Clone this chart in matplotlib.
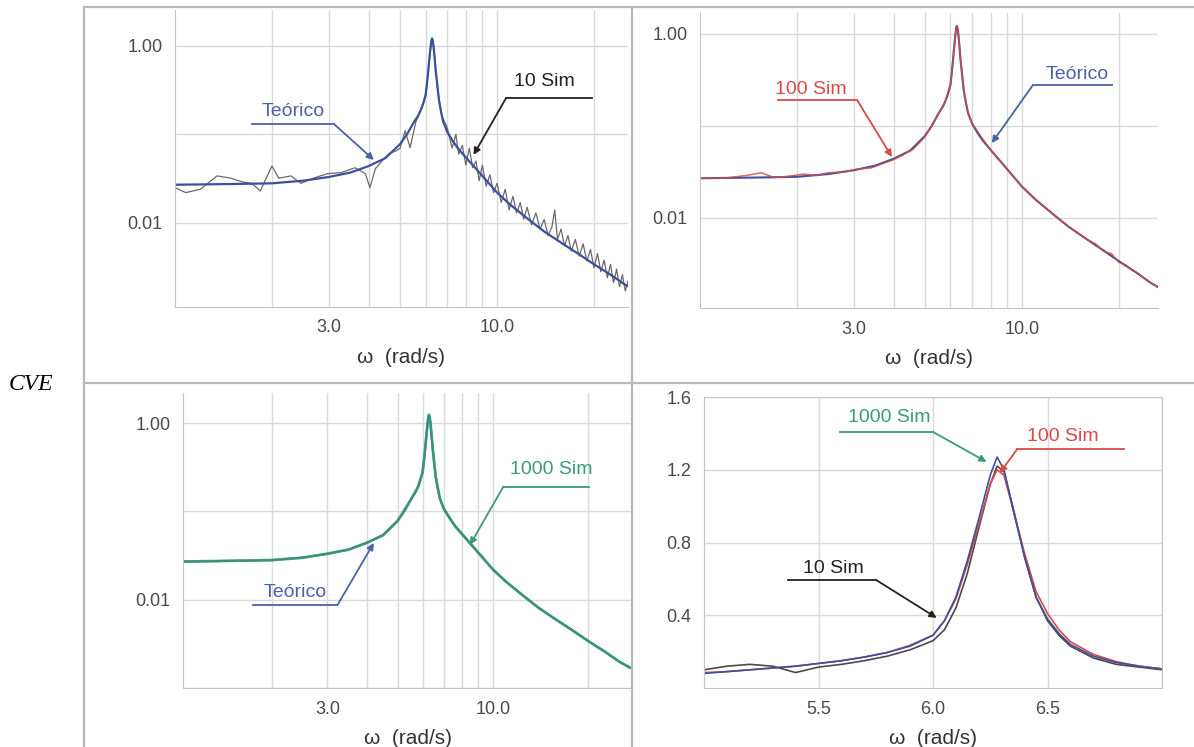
import matplotlib
matplotlib.use("Agg")
import matplotlib.pyplot as plt
from matplotlib.lines import Line2D

# theoretical spectral density
omega_th = [1.0, 1.5, 2.0, 2.5, 3.0, 3.5, 4.0, 4.5, 5.0, 5.25, 5.5, 5.7, 5.8, 5.9,
            6.0, 6.05, 6.1, 6.15, 6.2, 6.25, 6.28, 6.31, 6.35, 6.4, 6.45, 6.5,
            6.6, 6.7, 6.8, 7.0, 7.3, 7.6, 8.0, 9.0, 10.0, 11.0, 12.5, 14.0, 16.0,
            18.0, 20.0, 22.5, 25.0, 27.0]
s_th = [0.027, 0.0275, 0.028, 0.030, 0.033, 0.037, 0.044, 0.054, 0.078, 0.10,
        0.135, 0.165, 0.19, 0.225, 0.28, 0.36, 0.48, 0.665, 0.89, 1.15, 1.22,
        1.17, 1.0, 0.74, 0.52, 0.41, 0.245, 0.18, 0.14, 0.107, 0.083, 0.068,
        0.055, 0.034, 0.022, 0.016, 0.011, 0.008, 0.0058, 0.0044, 0.0034,
        0.0026, 0.002, 0.0017]

# estimate from 10 simulations
omega_10 = [1.0, 1.08, 1.2, 1.35, 1.49, 1.62, 1.73, 1.84, 2.0, 2.1, 2.29, 2.46,
            2.69, 2.97, 3.28, 3.62, 3.9, 4.03, 4.19, 4.39, 4.6, 4.85, 5.0, 5.18,
            5.37, 5.6, 5.85, 6.0, 6.15, 6.25, 6.28, 6.31, 6.4, 6.55, 6.75, 7.0,
            7.25, 7.45, 7.6, 7.8, 8.0, 8.2, 8.4, 8.6, 8.8, 9.0, 9.25, 9.5, 9.75,
            10.0, 10.3, 10.6, 10.9, 11.2, 11.5, 11.8, 12.1, 12.4, 12.8, 13.2,
            13.6, 14.0, 14.4, 14.8, 15.1, 15.4, 15.8, 16.2, 16.6, 17.0, 17.5,
            18.0, 18.5, 19.0, 19.5, 20.0, 20.5, 21.0, 21.5, 22.0, 22.5, 23.0,
            23.5, 24.0, 24.5, 25.0, 25.5]
s_10 = [0.025, 0.022, 0.024, 0.034, 0.032, 0.029, 0.028, 0.023, 0.044, 0.032,
        0.034, 0.028, 0.032, 0.036, 0.037, 0.042, 0.036, 0.025, 0.041, 0.05,
        0.06, 0.065, 0.07, 0.11, 0.071, 0.14, 0.2, 0.27, 0.64, 1.1, 1.2, 1.15,
        0.72, 0.3, 0.16, 0.12, 0.07, 0.1, 0.06, 0.075, 0.045, 0.07, 0.042,
        0.05, 0.03, 0.045, 0.026, 0.035, 0.022, 0.028, 0.017, 0.024, 0.014,
        0.02, 0.013, 0.017, 0.011, 0.015, 0.0095, 0.013, 0.0085, 0.011,
        0.0072, 0.009, 0.014, 0.0065, 0.0085, 0.0055, 0.0072, 0.0048, 0.0065,
        0.0042, 0.0058, 0.0037, 0.005, 0.0031, 0.0045, 0.0028, 0.0038, 0.0024,
        0.0034, 0.0021, 0.003, 0.0019, 0.0026, 0.0017, 0.0022]

# estimate from 100 simulations
omega_100 = [1.0, 1.2, 1.4, 1.55, 1.7, 1.9, 2.1, 2.3, 2.5, 2.8, 3.1, 3.4, 3.7,
             4.0, 4.3, 4.6, 5.0, 5.5, 5.8, 6.0, 6.1, 6.2, 6.25, 6.28, 6.31, 6.35,
             6.4, 6.5, 6.6, 6.8, 7.0, 7.5, 8.0, 9.0, 10.0, 11.0, 12.5, 14.0,
             16.0, 17.0, 18.0, 19.0, 20.0, 21.0, 22.0, 23.0, 24.0, 25.0, 27.0]
s_100 = [0.027, 0.0272, 0.029, 0.031, 0.0275, 0.0285, 0.030, 0.029, 0.031,
         0.0315, 0.034, 0.035, 0.039, 0.043, 0.049, 0.056, 0.076, 0.133, 0.19,
         0.28, 0.47, 0.88, 1.12, 1.2, 1.16, 0.99, 0.74, 0.41, 0.25, 0.142,
         0.108, 0.075, 0.055, 0.034, 0.022, 0.016, 0.011, 0.008, 0.0058,
         0.0052, 0.0043, 0.0041, 0.0033, 0.0031, 0.0027, 0.0025, 0.0022,
         0.002, 0.0017]

# estimate from 1000 simulations
omega_1000 = [1.05, 1.5, 2.0, 2.5, 3.0, 3.5, 4.0, 4.5, 5.0, 5.5, 5.8, 6.0, 6.1,
              6.2, 6.25, 6.28, 6.31, 6.35, 6.4, 6.5, 6.6, 6.8, 7.0, 7.6, 8.0,
              9.0, 10.0, 11.0, 12.5, 14.0, 16.0, 18.0, 20.0, 22.5, 25.0, 28.0]
s_1000 = [0.027, 0.0276, 0.0281, 0.0298, 0.0332, 0.0368, 0.0442, 0.0538,
          0.078, 0.135, 0.19, 0.28, 0.48, 0.89, 1.16, 1.24, 1.18, 1.0, 0.73,
          0.4, 0.245, 0.14, 0.107, 0.068, 0.055, 0.034, 0.022, 0.016, 0.011,
          0.008, 0.0058, 0.0044, 0.0034, 0.0026, 0.002, 0.0016]

# detail around the resonance (linear scale)
omega_zoom = [5.0, 5.1, 5.2, 5.3, 5.4, 5.5, 5.6, 5.7, 5.8, 5.9, 6.0, 6.05, 6.1,
              6.15, 6.2, 6.25, 6.28, 6.31, 6.35, 6.4, 6.45, 6.5, 6.55, 6.6,
              6.7, 6.8, 6.9, 7.0]
zoom_10 = [0.10, 0.12, 0.13, 0.12, 0.085, 0.115, 0.13, 0.15, 0.175, 0.21,
           0.26, 0.32, 0.44, 0.63, 0.88, 1.12, 1.22, 1.19, 0.99, 0.72, 0.50,
           0.37, 0.29, 0.23, 0.165, 0.13, 0.115, 0.10]
zoom_100 = [0.085, 0.09, 0.10, 0.11, 0.12, 0.135, 0.15, 0.17, 0.195, 0.235,
            0.29, 0.37, 0.49, 0.68, 0.90, 1.12, 1.20, 1.17, 0.98, 0.74, 0.53,
            0.41, 0.32, 0.255, 0.185, 0.145, 0.12, 0.105]
zoom_1000 = [0.08, 0.09, 0.10, 0.11, 0.12, 0.135, 0.15, 0.17, 0.195, 0.23,
             0.29, 0.37, 0.50, 0.70, 0.93, 1.17, 1.27, 1.20, 0.98, 0.72, 0.50,
             0.38, 0.30, 0.24, 0.175, 0.14, 0.12, 0.105]

log_xticks = [2, 3, 4, 5, 6, 7, 8, 9, 10, 20]
log_xlabels = ['', '3.0', '', '', '', '', '', '', '10.0', '']
log_yticks = [1.0, 0.1, 0.01, 0.001]
log_ylabels = ['1.00', '', '0.01', '']
zoom_xticks = [5.5, 6.0, 6.5]
zoom_yticks = [0.4, 0.8, 1.2, 1.6]

C_TH = '#3c509e'
C_10 = '#4a4a4a'
C_100 = '#d94a4a'
C_1000 = '#3a9c78'
C_TXT_TH = '#4d60a8'
GRID = '#dadada'
SPINE = '#c4c4c4'
TICK = '#4a4a4a'
W, H = 1194, 747

plt.rcParams['font.family'] = ['Liberation Sans', 'DejaVu Sans']


def px_axes(fig, left, top, right, bottom):
    return fig.add_axes([left / W, 1 - bottom / H, (right - left) / W, (bottom - top) / H])


def style_common(ax):
    ax.grid(True, color=GRID, lw=1.0)
    ax.set_axisbelow(True)
    ax.tick_params(length=0, labelsize=13, labelcolor=TICK, pad=9)
    ax.set_xlabel('\u03c9  (rad/s)', fontsize=15, color='#333333', labelpad=8)


def style_log(ax, xlim, ylim):
    ax.set_xscale('log')
    ax.set_yscale('log')
    ax.set_xticks(log_xticks, log_xlabels)
    ax.set_yticks(log_yticks, log_ylabels)
    ax.minorticks_off()
    ax.set_xlim(*xlim)
    ax.set_ylim(*ylim)
    for side in ['top', 'right']:
        ax.spines[side].set_visible(False)
    for side in ['left', 'bottom']:
        ax.spines[side].set_color(SPINE)
    style_common(ax)


def callout(ax, text, color, text_xy, line_x, line_y, start_x, tip):
    ax.text(text_xy[0], text_xy[1], text, transform=ax.transAxes, ha='center',
            va='center', color=color, fontsize=14)
    ax.add_line(Line2D(line_x, [line_y, line_y], transform=ax.transAxes,
                       color=color, lw=1.3, clip_on=False))
    ax.annotate('', xy=tip, xycoords='axes fraction', xytext=(start_x, line_y),
                textcoords='axes fraction',
                arrowprops=dict(arrowstyle='-|>', color=color, lw=1.3,
                                mutation_scale=10, shrinkA=0, shrinkB=0))


fig = plt.figure(figsize=(W / 100, H / 100), dpi=100)

# top left: 10 simulations against theory
ax1 = px_axes(fig, 175, 10, 628, 307)
ax1.plot(omega_10, s_10, color='#6a6a6a', lw=0.9)
ax1.plot(omega_th, s_th, color=C_TH, lw=1.6)
style_log(ax1, (1.0, 25.5), (0.00112, 2.55))
callout(ax1, 'Te\u00f3rico', C_TXT_TH, (0.262, 0.657), [0.169, 0.351], 0.616, 0.351, (0.439, 0.495))
callout(ax1, '10 Sim', '#222222', (0.815, 0.758), [0.731, 0.921], 0.704, 0.731, (0.659, 0.512))

# top right: 100 simulations
ax2 = px_axes(fig, 700, 13, 1158, 308)
ax2.plot(omega_th, s_th, color=C_TH, lw=1.5)
ax2.plot(omega_100, s_100, color=C_100, lw=1.1, alpha=0.85)
style_log(ax2, (1.0, 26.5), (0.00105, 1.69))
callout(ax2, '100 Sim', C_100, (0.242, 0.739), [0.170, 0.343], 0.705, 0.343, (0.419, 0.512))
callout(ax2, 'Te\u00f3rico', C_TXT_TH, (0.824, 0.790), [0.727, 0.900], 0.756, 0.727, (0.637, 0.559))

# bottom left: 1000 simulations
ax3 = px_axes(fig, 183, 393, 632, 688)
ax3.plot(omega_th, s_th, color=C_TH, lw=1.5)
ax3.plot(omega_1000, s_1000, color=C_1000, lw=2.0, alpha=0.85)
style_log(ax3, (1.05, 27.5), (0.001, 2.19))
callout(ax3, '1000 Sim', C_1000, (0.820, 0.739), [0.713, 0.904], 0.681, 0.713, (0.639, 0.485))
callout(ax3, 'Te\u00f3rico', C_TXT_TH, (0.250, 0.325), [0.156, 0.344], 0.281, 0.344, (0.425, 0.492))

# bottom right: close-up of the peak
ax4 = px_axes(fig, 704, 397, 1162, 688)
ax4.plot(omega_zoom, zoom_10, color=C_10, lw=1.2)
ax4.plot(omega_zoom, zoom_100, color=C_100, lw=1.2)
ax4.plot(omega_zoom, zoom_1000, color=C_TH, lw=1.2)
ax4.set_xlim(5.0, 7.0)
ax4.set_ylim(0.0, 1.6)
ax4.set_xticks(zoom_xticks, ['5.5', '6.0', '6.5'])
ax4.set_yticks(zoom_yticks, ['0.4', '0.8', '1.2', '1.6'])
for side in ax4.spines.values():
    side.set_color(SPINE)
style_common(ax4)
callout(ax4, '1000 Sim', C_1000, (0.404, 0.931), [0.297, 0.500], 0.880, 0.500, (0.617, 0.777))
callout(ax4, '100 Sim', C_100, (0.784, 0.863), [0.684, 0.917], 0.821, 0.684, (0.646, 0.739))
callout(ax4, '10 Sim', '#222222', (0.282, 0.412), [0.184, 0.376], 0.371, 0.376, (0.508, 0.241))

# table rules around the four panels
rule = dict(transform=fig.transFigure, color='#b8b8b8', lw=1.6)
fig.add_artist(Line2D([84 / W, 1.0], [1 - 7 / H, 1 - 7 / H], **rule))
fig.add_artist(Line2D([84 / W, 1.0], [1 - 383 / H, 1 - 383 / H], **rule))
fig.add_artist(Line2D([84 / W, 84 / W], [0.0, 1 - 7 / H], **rule))
fig.add_artist(Line2D([632 / W, 632 / W], [0.0, 1 - 7 / H], **rule))

fig.text(31 / W, 1 - 385 / H, 'CVE', family='Liberation Serif', style='italic',
         fontsize=17, ha='center', va='center')

fig.savefig('out.png', dpi=100)
